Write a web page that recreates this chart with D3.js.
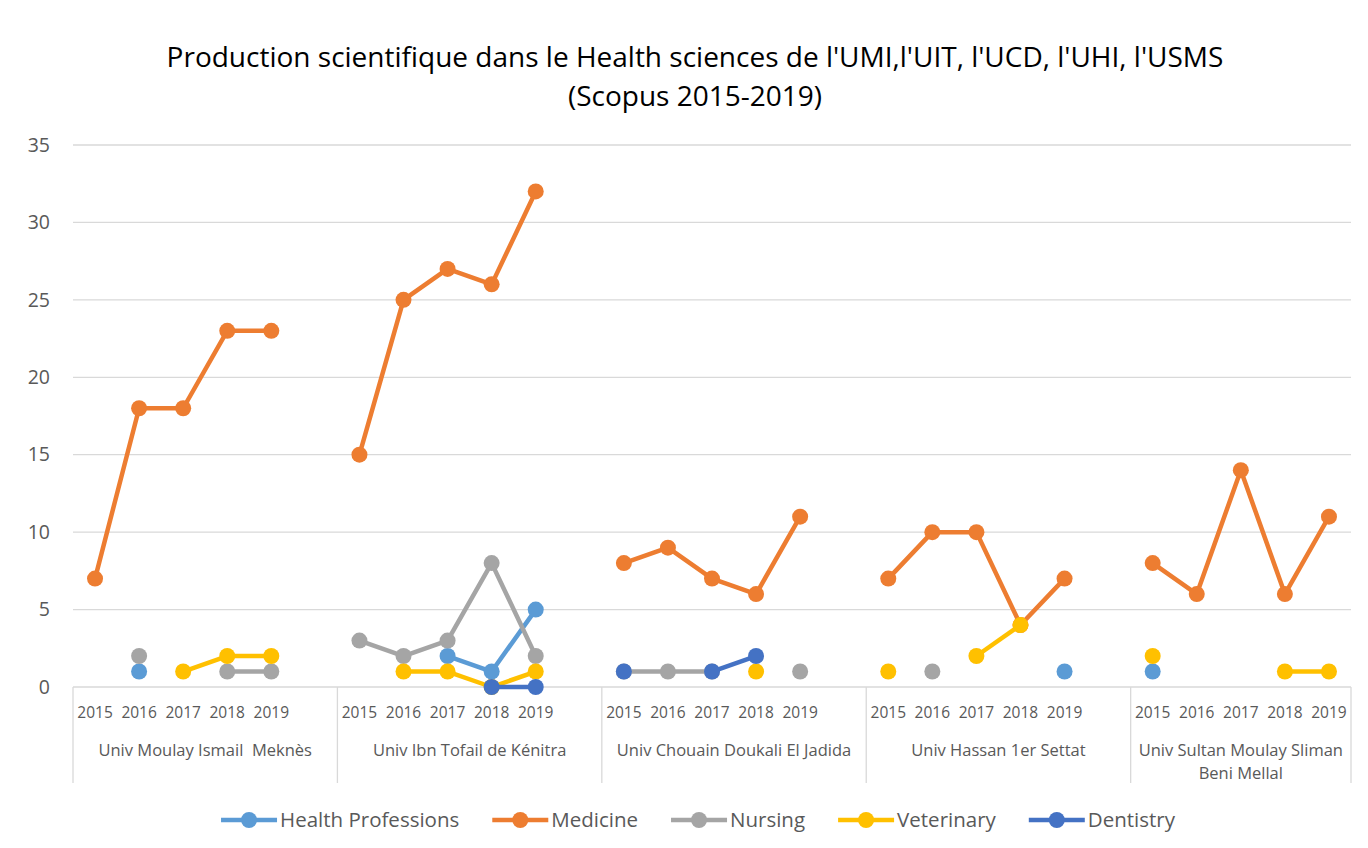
<!DOCTYPE html>
<html>
<head>
<meta charset="utf-8">
<script src="https://cdn.jsdelivr.net/npm/d3@7"></script>
<style>
  body { margin: 0; background: #fff; }
  text { font-family: "Open Sans", sans-serif; fill: #595959; white-space: pre; }
</style>
</head>
<body>
<svg id="chart" width="1368" height="848"></svg>
<script>
const universities = [
    ["Univ Moulay Ismail  Meknès"],
    ["Univ Ibn Tofail de Kénitra"],
    ["Univ Chouain Doukali El Jadida"],
    ["Univ Hassan 1er Settat"],
    ["Univ Sultan Moulay Sliman", "Beni Mellal"]
];
const years = ["2015", "2016", "2017", "2018", "2019"];
const yTicks = [0, 5, 10, 15, 20, 25, 30, 35];

// one value per university and year, null where no point is drawn
const healthProfessions = [
    null, 1, null, null, null,
    null, null, 2, 1, 5,
    null, null, null, null, null,
    null, null, null, null, 1,
    1, null, null, null, null
];
const medicine = [
    7, 18, 18, 23, 23,
    15, 25, 27, 26, 32,
    8, 9, 7, 6, 11,
    7, 10, 10, 4, 7,
    8, 6, 14, 6, 11
];
const nursing = [
    null, 2, null, 1, 1,
    3, 2, 3, 8, 2,
    1, 1, 1, null, 1,
    null, 1, null, null, null,
    null, null, null, null, null
];
const veterinary = [
    null, null, 1, 2, 2,
    null, 1, 1, 0, 1,
    null, null, null, 1, null,
    1, null, 2, 4, null,
    2, null, null, 1, 1
];
const dentistry = [
    null, null, null, null, null,
    null, null, null, 0, 0,
    1, null, 1, 2, null,
    null, null, null, null, null,
    null, null, null, null, null
];

const seriesNames = ["Health Professions", "Medicine", "Nursing", "Veterinary", "Dentistry"];
const seriesValues = [healthProfessions, medicine, nursing, veterinary, dentistry];
const seriesColors = ["#5B9BD5", "#ED7D31", "#A5A5A5", "#FFC000", "#4472C4"];

// Layout
const plotLeft = 73, plotRight = 1351, plotTop = 145, plotBottom = 687;
const axisBoxBottom = 783;
const lineWidth = 4.5, markerRadius = 8;

const svg = d3.select("#chart");

// category slots: 5 years per university, plus an empty slot between universities
const slots = [];
universities.forEach((u, gi) => {
    years.forEach(y => slots.push(gi + "-" + y));
    if (gi < universities.length - 1) slots.push(gi + "-gap");
});

const x = d3.scaleBand().domain(slots).range([plotLeft, plotRight]);
const y = d3.scaleLinear().domain([0, 35]).range([plotBottom, plotTop]);

// gridlines
svg.append("g")
    .selectAll("line")
    .data(yTicks)
    .join("line")
    .attr("x1", plotLeft)
    .attr("x2", plotRight)
    .attr("y1", d => y(d))
    .attr("y2", d => y(d))
    .attr("stroke", "#d9d9d9")
    .attr("stroke-width", 1.3);

// y axis labels
let yAxis = d3.axisLeft(y).tickValues(yTicks).tickSize(0).tickPadding(23);
svg.append("g")
    .attr("transform", "translate(" + plotLeft + ",0)")
    .call(yAxis)
    .call(g => g.select(".domain").remove())
    .selectAll("text")
    .style("font-size", "19.5px")
    .style("font-family", "'Open Sans', sans-serif")
    .attr("fill", "#595959");

// category axis: group dividers
const groupEdges = universities.map((u, gi) => x(gi + "-2015"));
groupEdges.push(plotRight);
svg.append("g")
    .selectAll("line")
    .data(groupEdges)
    .join("line")
    .attr("x1", d => d)
    .attr("x2", d => d)
    .attr("y1", plotBottom)
    .attr("y2", axisBoxBottom)
    .attr("stroke", "#d9d9d9")
    .attr("stroke-width", 1.3);

// year labels
const yearLabels = [];
universities.forEach((u, gi) => years.forEach(yr => yearLabels.push({ slot: gi + "-" + yr, text: yr })));
svg.append("g")
    .selectAll("text")
    .data(yearLabels)
    .join("text")
    .attr("x", d => x(d.slot) + x.bandwidth() / 2)
    .attr("y", 718)
    .attr("text-anchor", "middle")
    .style("font-size", "15.5px")
    .text(d => d.text);

// university labels
svg.append("g")
    .selectAll("text")
    .data(universities)
    .join("text")
    .attr("x", (d, i) => (groupEdges[i] + groupEdges[i + 1]) / 2)
    .attr("y", 756)
    .attr("text-anchor", "middle")
    .style("font-size", "16.5px")
    .selectAll("tspan")
    .data(d => d)
    .join("tspan")
    .attr("x", function () { return this.parentNode.getAttribute("x"); })
    .attr("dy", (d, i) => i === 0 ? 0 : 23)
    .text(d => d);

// series
const pointX = i => {
    let gi = Math.floor(i / years.length);
    return x(gi + "-" + years[i % years.length]) + x.bandwidth() / 2;
};
const line = d3.line()
    .defined(d => d.v !== null)
    .x(d => pointX(d.i))
    .y(d => y(d.v));

seriesValues.forEach((values, si) => {
    let g = svg.append("g");
    let points = values.map((v, i) => ({ v: v, i: i }));
    // a separate line for each university, so lines never cross the gaps
    let perGroup = universities.map((u, gi) => points.slice(gi * years.length, (gi + 1) * years.length));
    g.selectAll("path")
        .data(perGroup)
        .join("path")
        .attr("d", line)
        .attr("fill", "none")
        .attr("stroke", seriesColors[si])
        .attr("stroke-width", lineWidth)
        .attr("stroke-linejoin", "round");
    g.selectAll("circle")
        .data(points.filter(d => d.v !== null))
        .join("circle")
        .attr("cx", d => pointX(d.i))
        .attr("cy", d => y(d.v))
        .attr("r", markerRadius)
        .attr("fill", seriesColors[si]);
});

// title
svg.append("text")
    .attr("x", 695)
    .attr("y", 67)
    .attr("text-anchor", "middle")
    .style("font-size", "28px")
    .style("fill", "#000")
    .selectAll("tspan")
    .data(["Production scientifique dans le Health sciences de l'UMI,l'UIT, l'UCD, l'UHI, l'USMS", "(Scopus 2015-2019)"])
    .join("tspan")
    .attr("x", 695)
    .attr("dy", (d, i) => i === 0 ? 0 : 39)
    .text(d => d);

// legend
const legend = svg.append("g");
let legendX = 0;
seriesNames.forEach((name, si) => {
    let item = legend.append("g");
    item.append("line")
        .attr("x1", 0).attr("x2", 56)
        .attr("y1", 0).attr("y2", 0)
        .attr("stroke", seriesColors[si])
        .attr("stroke-width", lineWidth);
    item.append("circle")
        .attr("cx", 28).attr("cy", 0).attr("r", markerRadius)
        .attr("fill", seriesColors[si]);
    let label = item.append("text")
        .attr("x", 59)
        .attr("y", 7)
        .style("font-size", "20.5px")
        .text(name);
    let w = 59 + label.node().getComputedTextLength();
    item.attr("transform", "translate(" + legendX + ",0)");
    legendX += w + 33;
});
legendX -= 33;
legend.attr("transform", "translate(" + (698 - legendX / 2) + ",820)");
</script>
</body>
</html>
